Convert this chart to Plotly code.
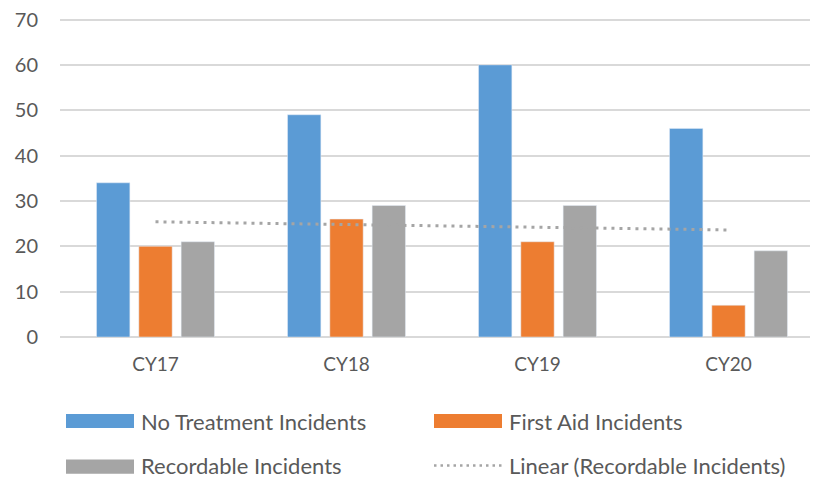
import numpy as np
import plotly.graph_objects as go

# Data
years = ["CY17", "CY18", "CY19", "CY20"]
no_treatment = [34, 49, 60, 46]
first_aid = [20, 26, 21, 7]
recordable = [21, 29, 29, 19]
y_ticks = [0, 10, 20, 30, 40, 50, 60, 70]

# Linear trendline of recordable incidents (least squares, like Excel)
idx = np.arange(len(years))
slope, intercept = np.polyfit(idx, recordable, 1)
trend = slope * idx + intercept

BLUE = "#5B9BD5"
ORANGE = "#ED7D31"
GRAY = "#A5A5A5"
TEXT = "#595959"
GRID = "#D9D9D9"
FONT = "Lato"

fig = go.Figure()
fig.add_trace(go.Bar(x=years, y=no_treatment, name="No Treatment Incidents",
                     marker=dict(color=BLUE), showlegend=False))
fig.add_trace(go.Bar(x=years, y=first_aid, name="First Aid Incidents",
                     marker=dict(color=ORANGE), showlegend=False))
fig.add_trace(go.Bar(x=years, y=recordable, name="Recordable Incidents",
                     marker=dict(color=GRAY), showlegend=False))
fig.add_trace(go.Scatter(x=years, y=trend, mode="lines",
                         name="Linear (Recordable Incidents)",
                         line=dict(color=GRAY, width=3, dash="3px,5px"),
                         showlegend=False))

# The page body has an 8px margin, so the figure is drawn 8px smaller
OFF = 8
PX_PER_UNIT = 316.4 / 70
Y_TOP = 71
W, H = 818 - OFF, 478 - OFF
left, right, bottom = 60 - OFF, 0, 141.3
top = 20 - OFF - (Y_TOP - 70) * PX_PER_UNIT
pw = W - left - right
ph = H - top - bottom


def px(x):
    # window pixel -> paper coordinate
    return (x - OFF - left) / pw


def py(y):
    return (H - bottom - (y - OFF)) / ph


legend_items = [
    ("No Treatment Incidents", BLUE, "box", 66, 420.5),
    ("First Aid Incidents", ORANGE, "box", 434, 420.5),
    ("Recordable Incidents", GRAY, "box", 66, 466),
    ("Linear (Recordable Incidents)", GRAY, "dot", 434, 465),
]
for label, color, kind, x0, yc in legend_items:
    if kind == "box":
        fig.add_shape(type="rect", xref="paper", yref="paper",
                      x0=px(x0), x1=px(x0 + 68), y0=py(yc - 7), y1=py(yc + 7),
                      fillcolor=color, line=dict(width=0))
    else:
        fig.add_shape(type="line", xref="paper", yref="paper",
                      x0=px(x0), x1=px(x0 + 68), y0=py(yc), y1=py(yc),
                      line=dict(color=color, width=2.5, dash="2.5px,4px"))
    fig.add_annotation(text=label, xref="paper", yref="paper",
                       x=px(x0 + 74), y=py(min(yc, 465)), xanchor="left",
                       yanchor="middle", showarrow=False, borderpad=0,
                       font=dict(family=FONT, size=22, color=TEXT))

fig.update_layout(
    width=W, height=H,
    margin=dict(l=left, r=right, t=top, b=bottom),
    paper_bgcolor="white", plot_bgcolor="white",
    barmode="group", bargap=0.3355, bargroupgap=0.212,
    font=dict(family=FONT, size=20, color=TEXT),
    showlegend=False,
)
fig.update_xaxes(range=[-0.5, -0.5 + pw / 191.0], showgrid=False, ticks="",
                 showline=False, zeroline=False, ticklabelstandoff=14,
                 automargin=False,
                 tickfont=dict(family=FONT, size=19, color=TEXT))
fig.update_yaxes(range=[0, Y_TOP], tickmode="array", tickvals=y_ticks,
                 showgrid=True, gridcolor=GRID,
                 gridwidth=2, zeroline=True, zerolinecolor=GRID, zerolinewidth=2,
                 showline=False, ticks="", ticklabelstandoff=21,
                 ticklabeloverflow="allow", automargin=False,
                 tickfont=dict(family=FONT, size=20, color=TEXT))

fig.write_html("out.html")
